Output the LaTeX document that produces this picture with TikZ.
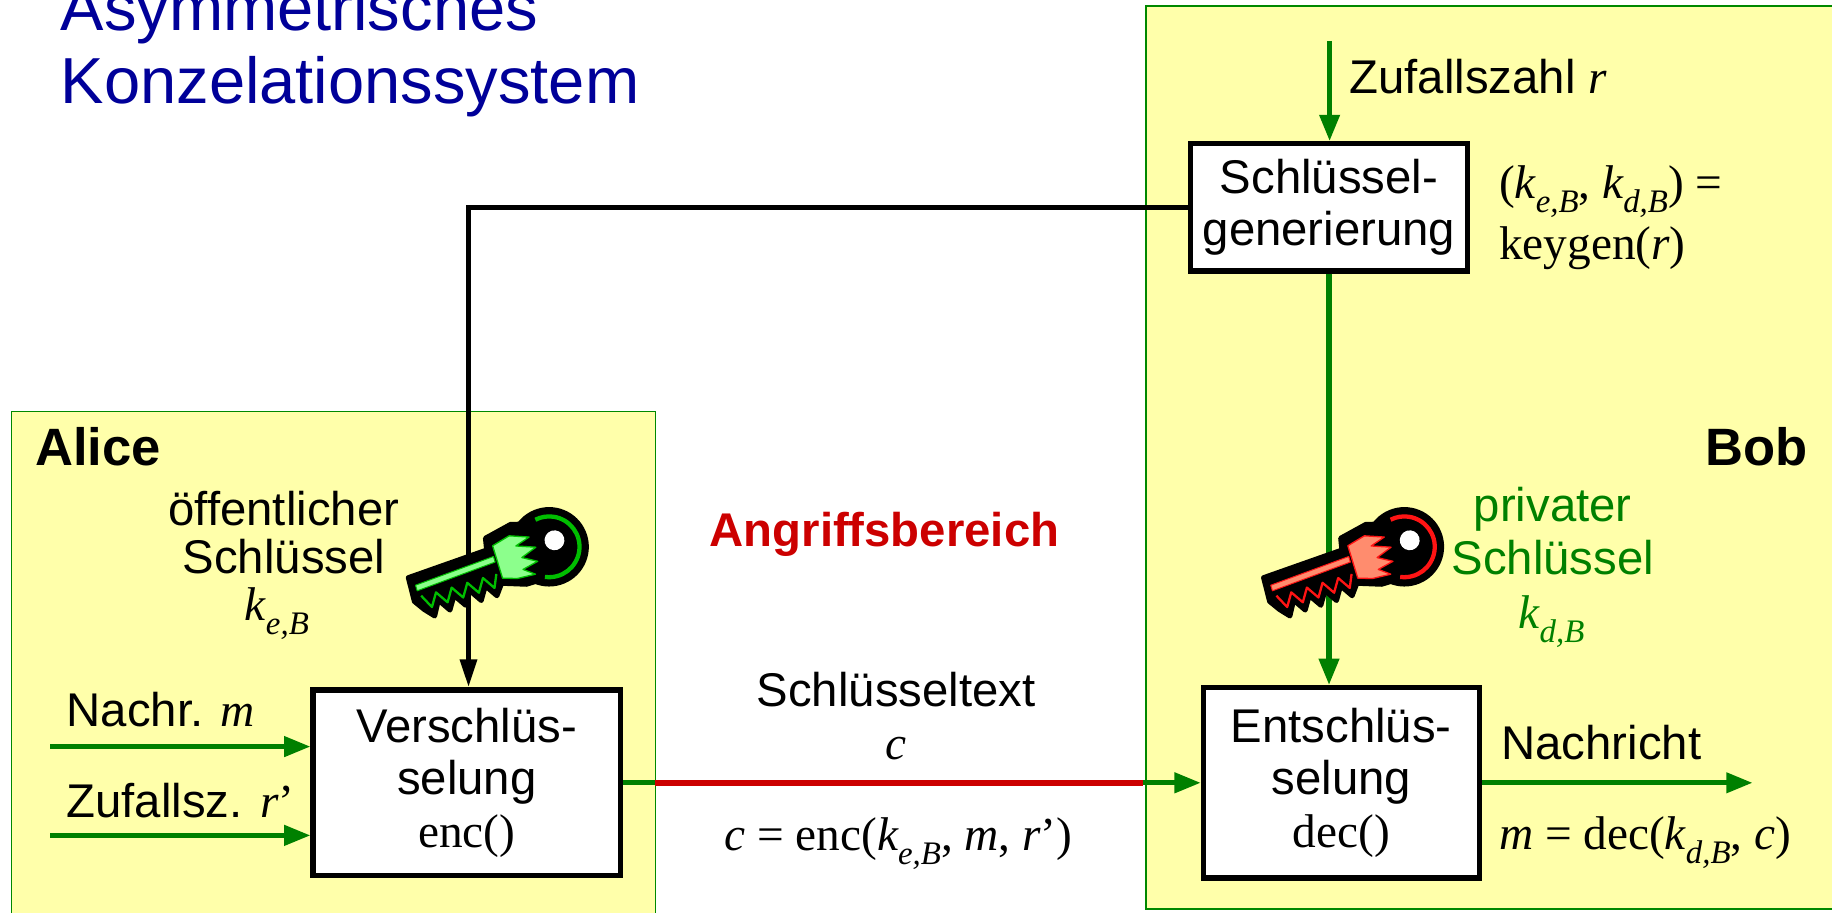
\documentclass[tikz,border=0pt]{standalone}
\usepackage{fontspec}
\setmainfont{Liberation Sans}
\newfontfamily\tms{Liberation Serif}
\usetikzlibrary{arrows.meta,calc}

\definecolor{areafill}{RGB}{255,255,170}
\definecolor{arealine}{RGB}{0,136,0}
\definecolor{flow}{RGB}{0,128,0}
\definecolor{attack}{RGB}{204,0,0}
\definecolor{titleblue}{RGB}{0,0,153}
\definecolor{keygreen}{RGB}{0,190,0}
\definecolor{keygreenlight}{RGB}{140,255,140}
\definecolor{keyred}{RGB}{255,20,20}
\definecolor{keyredlight}{RGB}{255,140,110}

% formula helpers: italic / upright serif, key symbol with subscript
\newcommand\mi[1]{{\tms\itshape #1}}
\newcommand\tmu[1]{{\tms #1}}
\newcommand\kx[1]{\mi{k}\raisebox{-0.3em}{\fontsize{20}{20}\selectfont\mi{#1}}}

\tikzset{
  every node/.style={inner sep=0pt, outer sep=0pt, font=\fontsize{28.8}{33}\selectfont},
  area/.style={fill=areafill, draw=arealine, line width=0.9pt},
  procbox/.style={draw=black, fill=white, line width=3.2pt, outer sep=1.6pt,
    align=center, font=\fontsize{28.8}{32}\selectfont},
  flowline/.style={draw=flow, line width=3.1pt},
  flowarrow/.style={flowline, -{Triangle[length=16pt,width=12pt]}},
  attackline/.style={draw=attack, line width=4pt},
  keyarrow/.style={draw=black, line width=3.1pt, -{Triangle[length=17pt,width=10pt]}},
  party/.style={font=\fontsize{32}{34}\selectfont\bfseries},
  titletext/.style={text=titleblue, font=\fontsize{39.6}{44}\selectfont},
  pics/keyicon/.style n args={2}{code={
    \begin{scope}[x=0.025cm, y=0.025cm, rotate=17, line join=round]
      % black silhouette of bow, collar, shank and bit
      \fill[black] (0,0) circle (34);
      \filldraw[black, line width=3pt] (-124,-11) -- (-123,10) -- (-52,13) -- (-50,23)
        -- (-26,28) -- (-8,23) -- (-8,-25) -- (-28,-25) -- (-48,-18) -- (-55,-27)
        -- (-62,-16) -- (-69,-27) -- (-76,-16) -- (-83,-27) -- (-90,-16) -- (-97,-27)
        -- (-104,-16) -- (-111,-28) -- (-118,-20) -- cycle;
      % coloured rim of the bow
      \draw[#1, line width=2.6pt] (-115:26) arc (-115:100:26);
      % collar with flame-like spikes
      \filldraw[fill=#2, draw=#1, line width=0.8pt] (-46,-14) -- (-46,15) -- (-30,19)
        -- (-14,13) -- (-27,9) -- (-11,3) -- (-25,-2) -- (-13,-9) -- (-27,-12)
        -- (-18,-19) -- (-34,-18) -- cycle;
      % stripe along the shank
      \filldraw[fill=#2, draw=#1, line width=0.6pt] (-119,-3) -- (-119,2) -- (-48,6)
        -- (-48,1) -- cycle;
      % bit teeth
      \draw[#1, line width=1.4pt] (-117,-8) -- (-111,-20) -- (-104,-9) -- (-97,-20)
        -- (-90,-9) -- (-83,-20) -- (-76,-9) -- (-69,-20) -- (-62,-9) -- (-55,-20)
        -- (-50,-9);
      % hole in the bow
      \fill[white] (6,4) circle (8.5);
    \end{scope}
  }}
}

\begin{document}
\begin{tikzpicture}[x=0.025cm, y=-0.025cm]
  \useasboundingbox (0,0) rectangle (1568,781);
  \clip (0,0) rectangle (1568,781);

  % the two parties' areas
  \draw[area] (10,352) rectangle (561,800);
  \draw[area] (981,5) rectangle (1600,778);

  % title
  \node[titletext, anchor=base west] (t1) at (52,26) {Asymmetrisches};
  \node[titletext, anchor=base west] (t2) at (52,89) {Konzelationssystem};

  % processing boxes
  \node[procbox, minimum width=5.925cm, minimum height=2.725cm] (gen) at (1137.5,177.5)
    {Schlüssel-\\generierung};
  \node[procbox, minimum width=6.575cm, minimum height=3.975cm] (enc) at (399.5,670)
    {Verschlüs-\\selung\\\tmu{enc()}};
  \node[procbox, minimum width=5.9cm, minimum height=4.075cm] (dec) at (1148,670)
    {Entschlüs-\\selung\\\tmu{dec()}};

  % key generation input and outputs
  \coordinate (rtop) at (1138,35);
  \draw[flowarrow] (rtop) -- (rtop |- gen.north);
  \draw[flowarrow] (gen.south) -- (gen.south |- dec.north);
  \coordinate (bend) at (401,179);
  \draw[keyarrow] (gen.west) -- (gen.west -| bend) -- (bend |- enc.north);

  % encryption inputs
  \coordinate (min) at (43,639);
  \coordinate (rin) at (43,715);
  \draw[flowarrow] (min) -- (min -| enc.west);
  \draw[flowarrow] (rin) -- (rin -| enc.west);

  % ciphertext through the attack area
  \coordinate (atkL) at (561,670);
  \coordinate (atkR) at (978,670);
  \draw[flowline] (enc.east) -- (atkL);
  \draw[attackline] (atkL) -- (atkR);
  \draw[flowarrow] (atkR) -- (dec.west);

  % decrypted message
  \coordinate (mout) at (1500,670);
  \draw[flowarrow] (dec.east) -- (mout);

  % keys
  \pic (pubkey) at (470,468) {keyicon={keygreen}{keygreenlight}};
  \pic (privkey) at (1202,468) {keyicon={keyred}{keyredlight}};

  % labels
  \node[party, anchor=base west] (alice) at (30,398) {Alice};
  \node[party, anchor=base east] (bob) at (1547,398) {Bob};

  \node[anchor=base] (pub1) at (243,450) {öffentlicher};
  \node[anchor=base] (pub2) at (243,491) {Schlüssel};
  \node[anchor=base] (pub3) at (237,531) {\kx{e,B}};

  \node[anchor=base, text=attack, font=\fontsize{28.8}{33}\selectfont\bfseries] (atk) at (757,468)
    {Angriffsbereich};

  \node[anchor=base, text=flow] (priv1) at (1329,446) {privater};
  \node[anchor=base, text=flow] (priv2) at (1329,492) {Schlüssel};
  \node[anchor=base, text=flow] (priv3) at (1328,538) {\kx{d,B}};

  \node[anchor=base west] (zr) at (1155,80) {Zufallszahl \mi{r}};
  \node[anchor=base west] (kg1) at (1283,170) {\tmu{(}\kx{e,B}\tmu{, }\kx{d,B}\tmu{) =}};
  \node[anchor=base west] (kg2) at (1283,222) {\tmu{keygen(}\mi{r}\tmu{)}};

  \node[anchor=base west] (lm) at (57,622) {Nachr. \mi{m}};
  \node[anchor=base west] (lr) at (57,700) {Zufallsz. \mi{r}\tmu{’}};

  \node[anchor=base] (ct1) at (767,605) {Schlüsseltext};
  \node[anchor=base] (ct2) at (767,650) {\mi{c}};
  \node[anchor=base west] (ctf) at (620,728)
    {\mi{c}\tmu{ = enc(}\kx{e,B}\tmu{, }\mi{m}\tmu{, }\mi{r}\tmu{’)}};

  \node[anchor=base west] (nm) at (1285,650) {Nachricht};
  \node[anchor=base west] (nmf) at (1283,727)
    {\mi{m}\tmu{ = dec(}\kx{d,B}\tmu{, }\mi{c}\tmu{)}};
\end{tikzpicture}
\end{document}
